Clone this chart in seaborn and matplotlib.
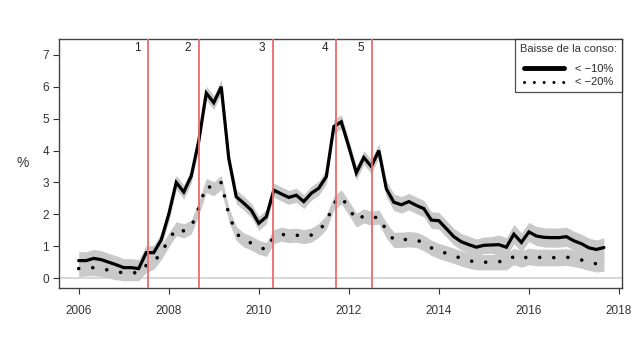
import numpy as np
import pandas as pd
import matplotlib
matplotlib.use("Agg")
import matplotlib.pyplot as plt
from matplotlib.lines import Line2D
import seaborn as sns

# bimonthly observations starting 2006
start_year = 2006
steps_per_year = 6

drop10 = [0.55, 0.55, 0.62, 0.58, 0.50, 0.42, 0.33, 0.33, 0.30, 0.80,
          0.80, 1.20, 2.00, 3.00, 2.70, 3.20, 4.30, 5.80, 5.50, 6.00,
          3.75, 2.55, 2.35, 2.13, 1.72, 1.92, 2.76, 2.64, 2.53, 2.60,
          2.40, 2.66, 2.82, 3.18, 4.75, 4.90, 4.12, 3.30, 3.78, 3.50,
          4.00, 2.80, 2.38, 2.30, 2.40, 2.28, 2.18, 1.82, 1.80, 1.55,
          1.30, 1.14, 1.05, 0.97, 1.03, 1.04, 1.05, 0.97, 1.38, 1.12,
          1.45, 1.32, 1.28, 1.27, 1.27, 1.30, 1.17, 1.08, 0.95, 0.90,
          0.96]
drop20 = [0.30, 0.32, 0.33, 0.30, 0.25, 0.20, 0.17, 0.17, 0.17, 0.40,
          0.50, 0.80, 1.20, 1.55, 1.48, 1.60, 2.20, 2.90, 2.80, 3.00,
          2.00, 1.40, 1.20, 1.10, 0.97, 0.90, 1.30, 1.38, 1.33, 1.35,
          1.30, 1.35, 1.50, 1.75, 2.35, 2.55, 2.20, 1.82, 1.95, 1.88,
          1.92, 1.50, 1.20, 1.20, 1.22, 1.20, 1.10, 0.95, 0.85, 0.78,
          0.70, 0.62, 0.55, 0.50, 0.50, 0.50, 0.52, 0.52, 0.68, 0.60,
          0.68, 0.65, 0.65, 0.64, 0.65, 0.66, 0.62, 0.57, 0.50, 0.45,
          0.48]
# half-width of the confidence bands
band10 = [0.28] * 9 + [0.22] * 32 + [0.26] * 15 + [0.30] * 15
band20 = [0.25] * 9 + [0.22] * 32 + [0.24] * 15 + [0.26] * 15

events = [2007.55, 2008.67, 2010.31, 2011.71, 2012.51]
event_labels = ["1", "2", "3", "4", "5"]
xticks = [2006, 2008, 2010, 2012, 2014, 2016, 2018]
yticks = [0, 1, 2, 3, 4, 5, 6, 7]
legend_title = "Baisse de la conso:"
legend_labels = ["< \u221210%", "< \u221220%"]

t = start_year + np.arange(len(drop10)) / steps_per_year
df = pd.DataFrame({"t": t, "d10": drop10, "d20": drop20,
                   "b10": band10, "b20": band20})

sns.set_style("white")
plt.rcParams["font.family"] = ["Liberation Sans", "DejaVu Sans"]

fig = plt.figure(figsize=(6.4, 3.5), dpi=100)
ax = fig.add_axes([0.092, 0.177, 0.880, 0.712])

band_col = "#c9c9c9"
ax.fill_between(df["t"], df["d10"] - df["b10"], df["d10"] + df["b10"],
                color=band_col, lw=0, zorder=1)
ax.fill_between(df["t"], df["d20"] - df["b20"], df["d20"] + df["b20"],
                color=band_col, lw=0, zorder=1)
ax.axhline(0, color="#d4d4d4", lw=1.3, zorder=0.5)

sns.lineplot(data=df, x="t", y="d10", ax=ax, color="black", lw=2.3,
             zorder=3, solid_joinstyle="miter")
sns.lineplot(data=df, x="t", y="d20", ax=ax, color="black", lw=2.6,
             zorder=3, linestyle=(0, (0.01, 3.9)), dash_capstyle="round")

for x, lab in zip(events, event_labels):
    ax.axvline(x, color="#ee6b6b", lw=1.3, zorder=4)
    ax.text(x - 0.24, 7.22, lab, ha="center", va="center", fontsize=8.5,
            color="#222222")

ax.set_xlim(2005.56, 2018.07)
ax.set_ylim(-0.31, 7.5)
ax.set_xticks(xticks)
ax.set_yticks(yticks)
ax.tick_params(axis="both", direction="out", length=4, width=0.8,
               colors="#333333", labelsize=8.5, bottom=True, left=True,
               pad=3)
ax.tick_params(axis="x", pad=8)
ax.set_xlabel("")
ax.set_ylabel("%", rotation=0, fontsize=10, color="#333333", labelpad=14,
              va="center")
for s in ax.spines.values():
    s.set_color("#444444")
    s.set_linewidth(1.0)

handles = [Line2D([0], [0], color="black", lw=3.5),
           Line2D([0], [0], color="black", lw=2.2,
                  linestyle=(0, (0.01, 3.2)), dash_capstyle="round")]
leg = ax.legend(handles, legend_labels, title=legend_title, loc="upper right",
                fontsize=8, title_fontsize=8, frameon=True, fancybox=False,
                handlelength=3.6, borderaxespad=0, borderpad=0.45,
                labelspacing=0.35, handletextpad=1.0)
leg._legend_box.sep = 7
leg.get_frame().set_edgecolor("#222222")
leg.get_frame().set_linewidth(0.9)
leg.get_title().set_color("#333333")

fig.savefig("out.png", dpi=100)
